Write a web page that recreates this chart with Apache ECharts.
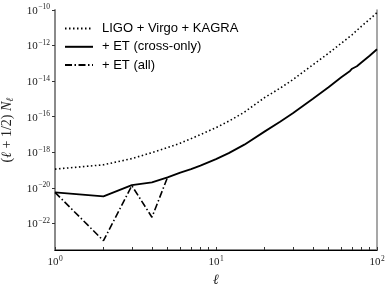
<!DOCTYPE html>
<html>
<head>
<meta charset="utf-8">
<script src="https://cdn.jsdelivr.net/npm/echarts@6/dist/echarts.min.js"></script>
<style>
html,body{margin:0;padding:0;background:#fff;}
#chart{width:391px;height:290px;}
</style>
</head>
<body>
<div id="chart"></div>
<script>
// ---- data ----
var ligoL = [1, 2, 3, 4, 5, 6, 7, 8, 10, 12, 15, 20, 25, 30, 40, 50, 60, 70, 80, 90, 100];
var ligoN = [1.12e-19, 1.96e-19, 4.37e-19, 9.50e-19, 1.81e-18, 3.24e-18, 5.81e-18, 9.75e-18, 2.41e-17,
             5.58e-17, 1.79e-16, 1.17e-15, 3.99e-15, 1.20e-14, 8.34e-14, 3.69e-13, 1.35e-12, 4.05e-12,
             1.21e-11, 3.01e-11, 7.14e-11];

var etCrossL = [1, 2, 3, 4, 5, 6, 7, 8, 10, 12, 15, 20, 25, 30, 40, 50, 60, 68, 70, 72, 75, 80, 90, 100];
var etCrossN = [5.50e-21, 3.31e-21, 1.41e-20, 2.00e-20, 3.84e-20, 7.14e-20, 1.12e-19, 1.77e-19, 4.09e-19,
                8.89e-19, 2.67e-18, 1.44e-17, 5.24e-17, 1.57e-16, 1.03e-15, 4.54e-15, 1.66e-14, 3.74e-14,
                4.97e-14, 5.45e-14, 6.87e-14, 1.12e-13, 2.67e-13, 6.19e-13];

var etAllL = [1, 2, 3, 4, 5];
var etAllN = [5.50e-21, 1.05e-23, 1.32e-20, 2.19e-22, 3.84e-20];

var seriesNames = ['LIGO + Virgo + KAGRA', '+ ET (cross-only)', '+ ET (all)'];

var xMin = 1, xMax = 100;
var yMin = 3.162e-24, yMax = 1e-10;
var xLabelValues = [1, 10, 100];
var xTickValues = [1, 2, 3, 4, 5, 6, 7, 8, 9, 10, 20, 30, 40, 50, 60, 70, 80, 90, 100];
var yLabelValues = [1e-22, 1e-20, 1e-18, 1e-16, 1e-14, 1e-12, 1e-10];

function pairs(xs, ys) { return xs.map(function (x, i) { return [x, ys[i]]; }); }
function powLabel(v) {
  var e = Math.round(Math.log10(v));
  return '{b|10}{s|' + String(e).replace('-', '\u2212') + '}';
}
var labelRich = {
  b: { fontFamily: 'Liberation Serif', fontSize: 11, color: '#222', lineHeight: 13, verticalAlign: 'bottom' },
  s: { fontFamily: 'Liberation Serif', fontSize: 7.5, color: '#222', lineHeight: 13, verticalAlign: 'top', padding: [0, 0, 0, 0.5] }
};
var gray = '#8a8a8a';

var chart = echarts.init(document.getElementById('chart'), null, { renderer: 'canvas' });
chart.setOption({
  animation: false,
  backgroundColor: '#fff',
  grid: { left: 55, right: 14, top: 10, bottom: 40, containLabel: false, outerBoundsMode: 'none' },
  legend: {
    data: seriesNames,
    orient: 'vertical',
    left: 64, top: 22,
    padding: 0,
    itemWidth: 28, itemHeight: 14, itemGap: 5.3,
    itemStyle: { color: 'rgba(0,0,0,0)', borderWidth: 0, opacity: 0 },
    textStyle: { fontFamily: 'Liberation Sans', fontSize: 13, color: '#000', padding: [0, 0, 0, 4] }
  },
  xAxis: [{
    type: 'log', logBase: 10, min: xMin, max: xMax, position: 'bottom',
    name: 'ℓ', nameLocation: 'middle', nameGap: 18,
    nameTextStyle: { fontFamily: 'Liberation Serif', fontStyle: 'italic', fontSize: 14, color: '#222' },
    axisLine: { lineStyle: { color: gray, width: 2 } },
    axisTick: { inside: true, length: 3, customValues: xTickValues, lineStyle: { color: '#333', width: 1 } },
    minorTick: { show: false },
    axisLabel: { customValues: xLabelValues, margin: 5, formatter: powLabel, rich: labelRich },
    splitLine: { show: false }
  }, {
    type: 'log', logBase: 10, min: xMin, max: xMax, position: 'top',
    axisLine: { lineStyle: { color: '#000', width: 1 } },
    axisTick: { show: false }, axisLabel: { show: false }, splitLine: { show: false }
  }],
  yAxis: [{
    type: 'log', logBase: 10, min: yMin, max: yMax, position: 'left',
    name: '{n|(}{i|ℓ}{n| + 1/2) }{i|N}{sub|ℓ}', nameLocation: 'middle', nameGap: 36,
    nameTextStyle: {
      rich: {
        n: { fontFamily: 'Liberation Serif', fontSize: 14, color: '#222', lineHeight: 18, verticalAlign: 'middle' },
        i: { fontFamily: 'Liberation Serif', fontStyle: 'italic', fontSize: 14, color: '#222', lineHeight: 18, verticalAlign: 'middle' },
        sub: { fontFamily: 'Liberation Serif', fontStyle: 'italic', fontSize: 10, color: '#222', lineHeight: 18, verticalAlign: 'bottom' }
      }
    },
    axisLine: { lineStyle: { color: gray, width: 2 } },
    axisTick: { inside: false, length: 3, customValues: yLabelValues, lineStyle: { color: '#333', width: 1 } },
    minorTick: { show: false },
    axisLabel: { customValues: yLabelValues, margin: 5, formatter: powLabel, rich: labelRich },
    splitLine: { show: false }
  }, {
    type: 'log', logBase: 10, min: yMin, max: yMax, position: 'right',
    axisLine: { lineStyle: { color: gray, width: 1.5 } },
    axisTick: { show: false }, axisLabel: { show: false }, splitLine: { show: false }
  }],
  series: [{
    name: seriesNames[0], type: 'line', data: pairs(ligoL, ligoN),
    symbol: 'none', smooth: false, z: 3,
    lineStyle: { color: '#000', width: 1.6, type: [1.5, 2.5], cap: 'butt' },
    itemStyle: { color: '#000' }
  }, {
    name: seriesNames[1], type: 'line', data: pairs(etCrossL, etCrossN),
    symbol: 'none', smooth: false, z: 4,
    lineStyle: { color: '#000', width: 1.8, type: 'solid' },
    itemStyle: { color: '#000' }
  }, {
    name: seriesNames[2], type: 'line', data: pairs(etAllL, etAllN),
    symbol: 'none', smooth: false, z: 3,
    lineStyle: { color: '#000', width: 1.6, type: [7, 2.5, 1.5, 2.5], cap: 'butt' },
    itemStyle: { color: '#000' }
  }]
});
</script>
</body>
</html>
